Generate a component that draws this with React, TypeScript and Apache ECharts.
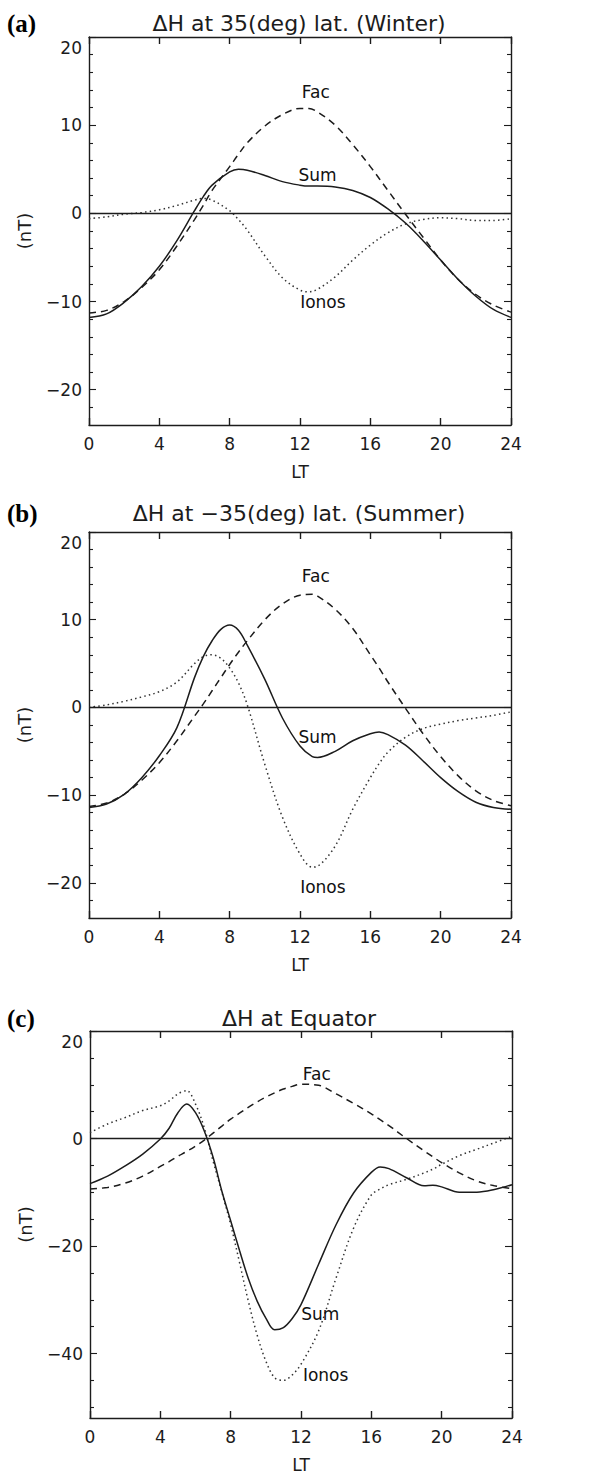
import React, { useEffect, useRef } from "react";
import * as echarts from "echarts";

// ---------- data ----------
const X_TICKS = [0, 4, 8, 12, 16, 20, 24];

const LT_A = [0, 1, 2, 3, 4, 5, 6, 6.5, 7, 8, 8.5, 9, 10, 11, 12, 12.5, 13, 14, 15, 16, 17, 18, 19, 20, 21, 22, 23, 24];
const SUM_A = [-11.8, -11.4, -10.1, -8.3, -6.0, -3.1, 0.3, 1.9, 3.2, 4.7, 5.0, 4.9, 4.3, 3.6, 3.2, 3.1, 3.1, 3.0, 2.6, 1.8, 0.5, -1.1, -3.1, -5.3, -7.5, -9.4, -10.9, -11.8];
const FAC_A = [-11.3, -11.0, -10.0, -8.4, -6.4, -3.7, -0.7, 0.9, 2.6, 5.3, 6.7, 8.0, 9.9, 11.2, 11.9, 11.9, 11.5, 10.0, 7.8, 5.3, 2.6, -0.1, -2.7, -5.3, -7.5, -9.2, -10.4, -11.2];
const IONOS_A = [-0.6, -0.4, -0.1, 0.1, 0.4, 0.9, 1.5, 1.7, 1.5, 0.3, -0.7, -1.9, -4.8, -7.3, -8.7, -8.9, -8.6, -7.2, -5.3, -3.6, -2.2, -1.2, -0.7, -0.5, -0.6, -0.8, -0.8, -0.6];

const LT_B = [0, 1, 2, 3, 4, 5, 6, 6.5, 7, 7.5, 8, 8.5, 9, 10, 11, 12, 12.7, 13, 14, 15, 16, 16.5, 17, 18, 19, 20, 21, 22, 23, 24];
const SUM_B = [-11.4, -11.0, -9.9, -8.0, -5.5, -2.3, 3.4, 5.8, 7.6, 8.9, 9.4, 8.8, 7.1, 3.2, -1.2, -4.4, -5.6, -5.7, -5.0, -3.8, -3.0, -2.8, -3.1, -4.3, -6.1, -8.0, -9.6, -10.8, -11.4, -11.6];
const FAC_B = [-11.3, -10.9, -9.9, -8.3, -6.3, -3.8, -1.0, 0.4, 1.9, 3.4, 4.9, 6.3, 7.6, 10.0, 11.8, 12.8, 12.9, 12.7, 11.2, 9.0, 6.0, 4.5, 2.9, -0.1, -3.0, -5.6, -7.8, -9.5, -10.6, -11.2];
const IONOS_B = [0.0, 0.3, 0.7, 1.2, 1.8, 2.9, 5.0, 5.8, 6.0, 5.6, 4.5, 2.8, 0.3, -6.5, -12.5, -16.7, -18.2, -18.1, -15.8, -11.6, -8.0, -6.4, -5.1, -3.4, -2.4, -1.9, -1.5, -1.2, -0.9, -0.5];

const LT_C = [0, 1, 2, 3, 4, 4.5, 5, 5.5, 6, 6.5, 7, 7.5, 8, 8.5, 9, 9.5, 10, 10.5, 11, 11.5, 12, 13, 14, 15, 16, 16.5, 17, 18, 19, 19.5, 20, 21, 22, 23, 24];
const SUM_C = [-8.4, -7.0, -5.1, -2.9, -0.1, 1.9, 4.8, 6.4, 4.8, 1.4, -3.5, -9.8, -15.3, -20.8, -26.0, -30.2, -33.4, -35.6, -35.2, -33.5, -30.9, -23.4, -16.0, -10.1, -6.3, -5.3, -5.6, -7.3, -8.8, -8.7, -9.0, -10.0, -10.0, -9.5, -8.6];
const FAC_C = [-9.4, -9.1, -8.3, -7.0, -5.2, -4.3, -3.3, -2.4, -1.4, -0.3, 1.0, 2.3, 3.6, 4.7, 5.8, 6.8, 7.7, 8.5, 9.2, 9.7, 10.1, 9.9, 8.3, 6.5, 4.6, 3.5, 2.4, 0.0, -2.3, -3.4, -4.5, -6.4, -7.9, -8.8, -9.3];
const IONOS_C = [1.1, 2.7, 3.9, 5.2, 6.1, 7.0, 8.3, 8.9, 6.4, 2.0, -4.2, -10.0, -16.0, -23.0, -30.2, -36.5, -41.4, -44.5, -45.0, -44.0, -42.0, -35.8, -25.9, -16.6, -10.5, -9.4, -8.6, -7.6, -6.4, -5.7, -4.8, -3.2, -2.0, -0.8, 0.4];

const Y_RANGE_AB = [-24, 20];
const Y_MAJOR_AB = [-20, -10, 0, 10, 20];
const Y_MINOR_AB = [-22, -18, -16, -14, -12, -8, -6, -4, -2, 2, 4, 6, 8, 12, 14, 16, 18];
const Y_RANGE_C = [-52, 20];
const Y_MAJOR_C = [-40, -20, 0, 20];
const Y_MINOR_C = [-50, -45, -35, -30, -25, -15, -10, -5, 5, 10, 15];

const CURVE_NAMES = ["Fac", "Sum", "Ionos"];
const LABEL_POS_A = [[12.9, 13.8], [13.0, 4.4], [13.3, -10.0]];
const LABEL_POS_B = [[12.9, 15.0], [13.0, -3.4], [13.3, -20.5]];
const LABEL_POS_C = [[12.9, 12.0], [13.1, -32.6], [13.4, -44.0]];

const TITLES = ["\u0394H at 35(deg) lat. (Winter)", "\u0394H at \u221235(deg) lat. (Summer)", "\u0394H at Equator"];
const TAGS = ["(a)", "(b)", "(c)"];
const X_NAME = "LT";
const Y_NAME = "(nT)";

// ---------- layout / style ----------
const FONT = '"DejaVu Sans", "Noto Sans", sans-serif';
const INK = "#1c1c1c";
const PANELS = [
  { grid: { left: 89, top: 37, width: 422, height: 388 }, titleY: 23, yr: Y_RANGE_AB, major: Y_MAJOR_AB, minor: Y_MINOR_AB, lt: LT_A, sum: SUM_A, fac: FAC_A, ion: IONOS_A, lab: LABEL_POS_A },
  { grid: { left: 89, top: 532, width: 422, height: 386 }, titleY: 513, yr: Y_RANGE_AB, major: Y_MAJOR_AB, minor: Y_MINOR_AB, lt: LT_B, sum: SUM_B, fac: FAC_B, ion: IONOS_B, lab: LABEL_POS_B },
  { grid: { left: 90, top: 1031, width: 422, height: 389 }, titleY: 1018, yr: Y_RANGE_C, major: Y_MAJOR_C, minor: Y_MINOR_C, lt: LT_C, sum: SUM_C, fac: FAC_C, ion: IONOS_C, lab: LABEL_POS_C },
];

const fmtNum = (v: number) => (v < 0 ? "\u2212" + Math.abs(v) : String(v));
const zip = (xs: number[], ys: number[]) => xs.map((x, i) => [x, ys[i]]);

function buildOption() {
  const grid: any[] = [];
  const xAxis: any[] = [];
  const yAxis: any[] = [];
  const series: any[] = [];
  const graphic: any[] = [];
  const lineCol = { color: INK, width: 1.4 };
  const labelStyle = { fontFamily: FONT, fontSize: 17, color: INK };

  PANELS.forEach((p, i) => {
    grid.push({ ...p.grid, containLabel: false });
    xAxis.push({
      type: "value", gridIndex: i, min: 0, max: 24, position: "bottom",
      axisLine: { show: true, onZero: false, lineStyle: lineCol },
      axisTick: { show: true, inside: true, length: 7, lineStyle: lineCol, customValues: X_TICKS },
      axisLabel: { show: true, margin: 10, ...labelStyle, customValues: X_TICKS },
      splitLine: { show: false },
      name: X_NAME, nameLocation: "middle", nameGap: 38, nameTextStyle: { ...labelStyle },
    });
    xAxis.push({
      type: "value", gridIndex: i, min: 0, max: 24, position: "top",
      axisLine: { show: true, onZero: false, lineStyle: lineCol },
      axisTick: { show: true, inside: true, length: 7, lineStyle: lineCol, customValues: X_TICKS },
      axisLabel: { show: false },
      splitLine: { show: false },
    });
    const yMax = p.yr[1];
    const mkY = (pos: string, major: boolean, withLabels: boolean) => ({
      type: "value", gridIndex: i, min: p.yr[0], max: p.yr[1], position: pos,
      axisLine: { show: major, onZero: false, lineStyle: lineCol },
      axisTick: { show: true, inside: true, length: major ? 7 : 4, lineStyle: { color: INK, width: 1.1 }, customValues: major ? p.major : p.minor },
      axisLabel: withLabels
        ? {
            show: true, margin: 7, ...labelStyle, customValues: p.major,
            formatter: (v: number) => (v === yMax ? "{t|" + fmtNum(v) + "}" : fmtNum(v)),
            rich: { t: { ...labelStyle, padding: [22, 0, 0, 0] } },
          }
        : { show: false },
      splitLine: { show: false },
      ...(withLabels ? { name: Y_NAME, nameLocation: "middle", nameGap: 56, nameRotate: 90, nameTextStyle: { ...labelStyle, fontSize: 18 } } : {}),
    });
    const yBase = yAxis.length;
    yAxis.push(mkY("left", true, true));
    yAxis.push(mkY("left", false, false));
    yAxis.push(mkY("right", true, false));
    yAxis.push(mkY("right", false, false));

    const xi = i * 2;
    const common = { type: "line", xAxisIndex: xi, yAxisIndex: yBase, showSymbol: false, symbol: "none", smooth: 0.35, silent: true };
    series.push({
      ...common, name: "Sum", data: zip(p.lt, p.sum), lineStyle: { color: INK, width: 1.5, type: "solid" }, z: 4,
      markLine: { silent: true, symbol: "none", label: { show: false }, lineStyle: { color: INK, width: 1.3, type: "solid" }, data: [{ yAxis: 0 }] },
    });
    series.push({ ...common, name: "Fac", data: zip(p.lt, p.fac), lineStyle: { color: INK, width: 1.5, type: [7, 5] }, z: 3 });
    series.push({ ...common, name: "Ionos", data: zip(p.lt, p.ion), lineStyle: { color: "#333", width: 1.5, type: [1.5, 3.2] }, z: 3 });
    series.push({
      type: "scatter", xAxisIndex: xi, yAxisIndex: yBase, silent: true, symbolSize: 0.01,
      itemStyle: { color: INK, opacity: 1 },
      label: {
        show: true, position: [0, 0], align: "center", verticalAlign: "middle", formatter: "{b}",
        fontFamily: FONT, fontSize: 17, color: "#111", textBorderWidth: 0, opacity: 1,
      },
      emphasis: { disabled: true },
      data: CURVE_NAMES.map((n, k) => ({ name: n, value: p.lab[k] })),
      z: 5,
    });

    graphic.push({
      type: "text", x: 299, y: p.titleY,
      style: { text: TITLES[i], fontFamily: FONT, fontSize: 22, fill: INK, align: "center", verticalAlign: "middle" },
    });
    graphic.push({
      type: "text", x: 7, y: p.titleY,
      style: { text: TAGS[i], fontFamily: '"Liberation Serif", "Times New Roman", serif', fontWeight: "bold", fontSize: 25, fill: "#000", align: "left", verticalAlign: "middle" },
    });
  });

  return { animation: false, backgroundColor: "#ffffff", grid, xAxis, yAxis, series, graphic };
}

export default function App() {
  const ref = useRef<HTMLDivElement>(null);
  useEffect(() => {
    document.body.style.margin = "0";
    if (!ref.current) return;
    const chart = echarts.init(ref.current, undefined, { renderer: "svg" });
    chart.setOption(buildOption() as any);
    return () => chart.dispose();
  }, []);
  return <div ref={ref} style={{ width: 594, height: 1474 }} />;
}
